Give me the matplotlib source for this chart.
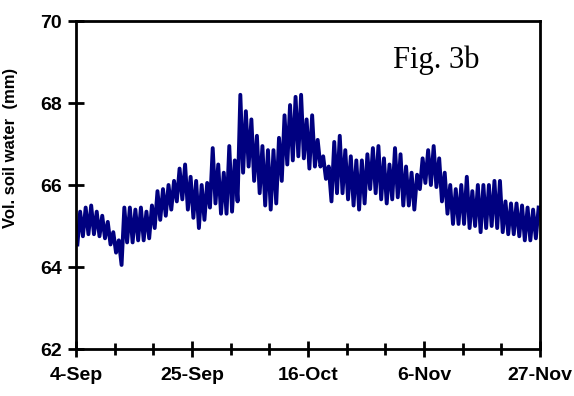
import numpy as np
import matplotlib
matplotlib.use("Agg")
import matplotlib.pyplot as plt
from matplotlib.ticker import MultipleLocator

# daily soil water readings, day 0 = 4-Sep
day_high = [65.35, 65.45, 65.5, 65.35, 65.25, 65.1, 64.85, 64.65, 65.45, 65.45,
            65.4, 65.45, 65.35, 65.5, 65.85, 65.9, 66.0, 66.1, 66.4, 66.5,
            66.2, 66.1, 66.0, 66.05, 66.9, 66.5, 66.3, 66.95, 66.6, 68.2,
            67.8, 67.6, 67.2, 66.95, 66.85, 66.85, 67.15, 67.7, 67.95, 68.15,
            68.2, 67.6, 67.7, 67.1, 66.7, 66.45, 67.05, 67.2, 66.85, 66.7,
            66.6, 66.6, 66.75, 66.9, 66.95, 66.65, 66.5, 66.9, 66.75, 66.45,
            66.3, 66.25, 66.65, 66.85, 66.95, 66.65, 66.3, 66.0, 65.9, 66.0,
            66.2, 65.85, 66.0, 66.0, 66.0, 66.1, 66.1, 65.6, 65.55, 65.55,
            65.5, 65.45, 65.4, 65.45]
day_low = [64.55, 64.75, 64.8, 64.8, 64.75, 64.7, 64.55, 64.35, 64.05, 64.6,
           64.6, 64.65, 64.65, 64.7, 64.95, 65.15, 65.25, 65.4, 65.6, 65.65,
           65.4, 65.2, 64.95, 65.15, 65.45, 65.55, 65.3, 65.3, 65.35, 65.6,
           66.3, 66.45, 66.1, 65.8, 65.5, 65.4, 65.55, 66.1, 66.5, 66.6,
           66.7, 66.65, 66.4, 66.45, 66.45, 66.15, 65.6, 65.8, 65.8, 65.65,
           65.5, 65.4, 65.55, 65.9, 65.8, 65.65, 65.55, 65.65, 65.7, 65.5,
           65.5, 65.4, 65.9, 66.05, 66.0, 65.95, 65.6, 65.3, 65.05, 65.05,
           65.05, 64.95, 65.0, 64.85, 64.95, 65.0, 64.95, 64.85, 64.8, 64.8,
           64.75, 64.65, 64.65, 64.7]

tick_days = [0, 21, 42, 63, 84]
tick_labels = ["4-Sep", "25-Sep", "16-Oct", "6-Nov", "27-Nov"]

days = np.arange(len(day_high))
t = (np.repeat(days, 2) + np.tile([0.25, 0.75], len(days)))
vals = np.column_stack([day_low, day_high]).ravel()

plt.rcParams['font.family'] = ['Liberation Sans', 'DejaVu Sans']

fig = plt.figure(figsize=(5.74, 3.96), dpi=100)
ax = fig.add_axes([76/574, 1 - 349/396, 464/574, 328/396])

ax.plot(t, vals, color='#000080', lw=2.8)

ax.set_xlim(0, 84)
ax.set_ylim(62, 70)
ax.set_xticks(tick_days)
ax.set_xticklabels(tick_labels)
ax.xaxis.set_minor_locator(MultipleLocator(7))
ax.set_yticks([62, 64, 66, 68, 70])

for s in ax.spines.values():
    s.set_linewidth(2)
ax.tick_params(which='major', direction='inout', length=12, width=2,
               labelsize=14, pad=4)
ax.tick_params(axis='x', which='major', pad=7)
ax.tick_params(which='minor', direction='inout', length=8, width=2)
for lab in ax.get_xticklabels() + ax.get_yticklabels():
    lab.set_fontweight('bold')

ax.set_ylabel("Vol. soil water  (mm)", fontsize=12, fontweight='bold')
ax.yaxis.set_label_coords(-0.125, 0.613)

fig.text(393/574, 1 - 68/396, "Fig. 3b", family='Liberation Serif', fontsize=22,
         va='baseline', ha='left')

fig.savefig("out.png", dpi=100)
